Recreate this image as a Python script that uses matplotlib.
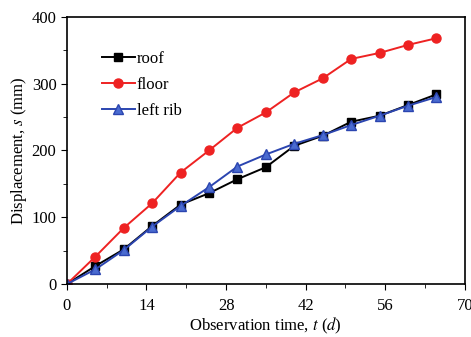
import numpy as np
import matplotlib.pyplot as plt
from matplotlib.ticker import MultipleLocator

plt.rcParams['font.family'] = ['Liberation Serif', 'DejaVu Serif']
plt.rcParams['mathtext.fontset'] = 'stix'

# observation days
t = [0, 5, 10, 15, 20, 25, 30, 35, 40, 45, 50, 55, 60, 65]
roof = [0, 27, 52, 87, 119, 136, 157, 175, 207, 222, 243, 252, 268, 284]
floor = [0, 41, 84, 121, 167, 200, 234, 257, 287, 308, 337, 346, 358, 368]
left_rib = [0, 22, 51, 86, 117, 145, 176, 194, 210, 223, 238, 252, 267, 280]

fig = plt.figure(figsize=(4.71, 3.37), dpi=100)
ax = fig.add_axes([0.142, 0.157, 0.845, 0.793])

ax.plot(t, roof, color='black', marker='s', ms=6, lw=1.4, label='roof')
ax.plot(t, floor, color='#ee2222', marker='o', ms=6.5, lw=1.4, label='floor')
ax.plot(t, left_rib, color='#2b45b0', marker='^', ms=7, lw=1.4,
        markerfacecolor='#4a6bd0', label='left rib')

ax.set_xlim(0, 70)
ax.set_ylim(0, 400)
ax.xaxis.set_major_locator(MultipleLocator(14))
ax.xaxis.set_minor_locator(MultipleLocator(7))
ax.yaxis.set_major_locator(MultipleLocator(100))
ax.yaxis.set_minor_locator(MultipleLocator(50))
ax.tick_params(which='major', length=4, labelsize=12, direction='out')
ax.tick_params(which='minor', length=3, direction='out')
ax.tick_params(axis='x', pad=6)

ax.set_xlabel('Observation time, $t$ ($d$)', fontsize=12, labelpad=1)
ax.set_ylabel('Displacement, $s$ (mm)', fontsize=12, labelpad=2)

for sp in ax.spines.values():
    sp.set_linewidth(1.2)

ax.legend(loc='upper left', bbox_to_anchor=(0.05, 0.93), frameon=False,
          fontsize=12, handlelength=2.0, handletextpad=0.1, labelspacing=0.6)

fig.savefig('out.png', dpi=100)
